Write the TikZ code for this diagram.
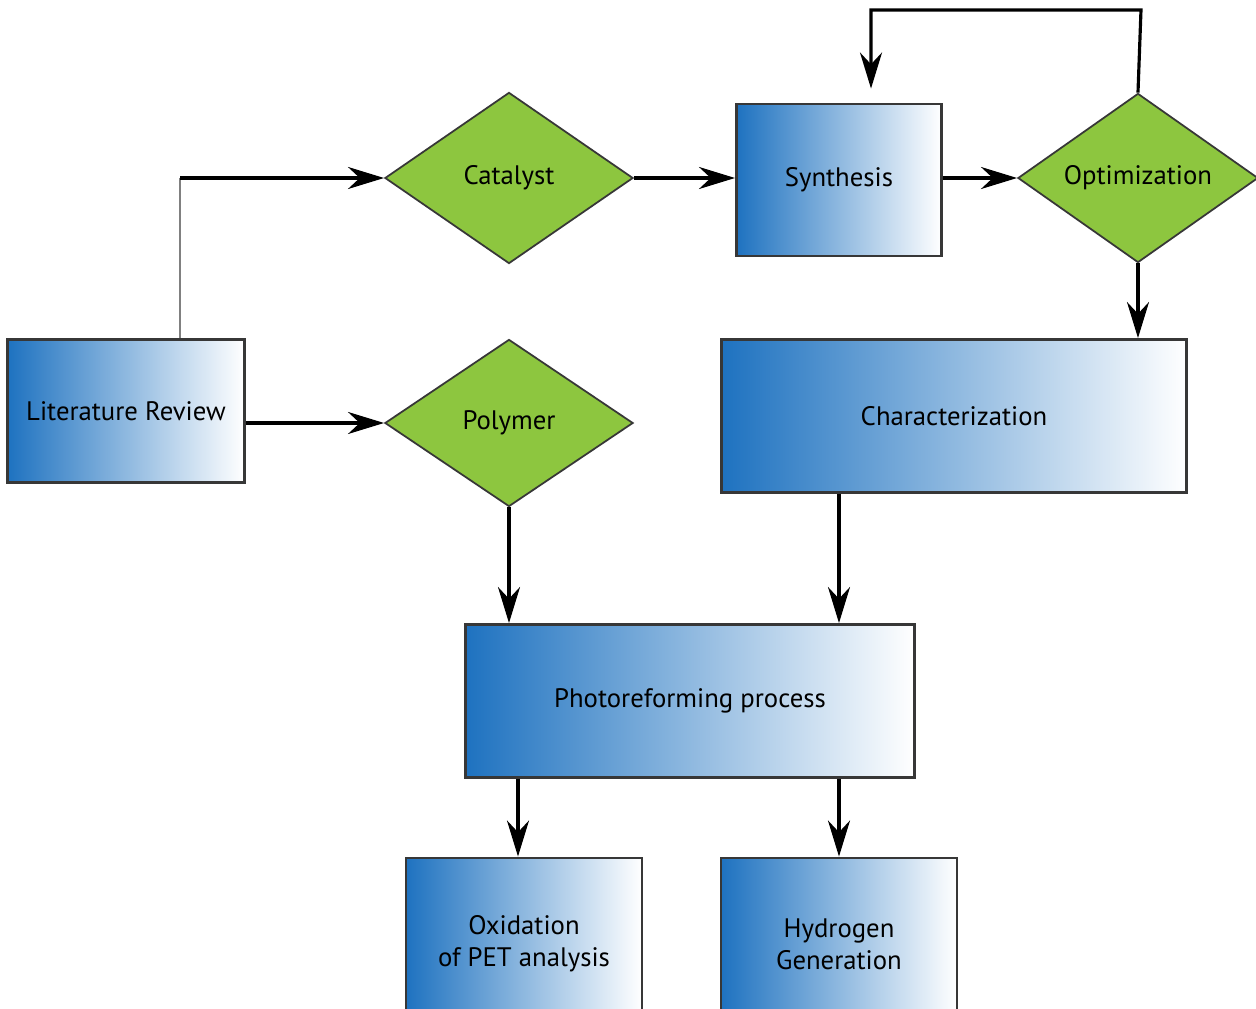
\documentclass[tikz,border=0pt]{standalone}
\usepackage{fontspec}
\setsansfont{PT Sans}
\usetikzlibrary{arrows.meta,shapes.geometric}
\definecolor{boxblue}{RGB}{30,114,192}
\definecolor{leafgreen}{RGB}{141,198,63}
\definecolor{edgegray}{RGB}{55,55,55}
\begin{document}
\begin{tikzpicture}[x=0.01cm,y=-0.01cm,>={Stealth[length=3.6mm,width=2.2mm]},font=\sffamily\fontsize{7.6}{9}\selectfont]
\tikzstyle{blk}=[draw=edgegray,line width=0.8pt,left color=boxblue,right color=white,align=center,inner sep=0pt]
\tikzstyle{dec}=[diamond,draw=edgegray,line width=0.5pt,fill=leafgreen,inner sep=0pt,aspect=1.4]
\tikzstyle{ln}=[->,line width=0.9pt,black]
\useasboundingbox (0,0) rectangle (1256,1009);
\fill[white] (0,0) rectangle (1256,1009);
\clip (0,0) rectangle (1256,1009);
\node[blk,minimum width=2.37cm,minimum height=1.43cm] (lit) at (126,411) {Literature Review};
\node[dec,minimum width=2.48cm,minimum height=1.71cm] (cat) at (509,178) {Catalyst};
\node[dec,minimum width=2.48cm,minimum height=1.67cm] (pol) at (509,423) {Polymer};
\node[blk,minimum width=2.05cm,minimum height=1.52cm] (syn) at (839,180) {Synthesis};
\node[dec,minimum width=2.40cm,minimum height=1.69cm] (opt) at (1138,178) {Optimization};
\node[blk,minimum width=4.65cm,minimum height=1.53cm] (cha) at (954,416) {Characterization};
\node[blk,minimum width=4.48cm,minimum height=1.53cm] (pho) at (690,701) {Photoreforming process};
\node[blk,minimum width=2.36cm,minimum height=1.72cm] (oxi) at (524,944) {Oxidation\\ of PET analysis};
\node[blk,minimum width=2.36cm,minimum height=1.72cm] (hyd) at (839,944) {Hydrogen\\ Generation};
\coordinate (loop) at (1141,10);
\coordinate (bend) at ([xshift=0.54cm]lit.north |- cat.west);
\draw[line width=0.6pt,gray] ([xshift=0.54cm]lit.north) -- (bend);
\draw[ln] (bend) -- (cat.west);
\draw[ln] (lit.east |- pol.west) -- (pol.west);
\draw[ln] (cat.east) -- (syn.west |- cat.east);
\draw[ln] (syn.east |- opt.west) -- (opt.west);
\draw[ln] (opt.north) -- (loop) -| ([xshift=0.32cm,yshift=0.14cm]syn.north);
\draw[ln] (opt.south) -- (cha.north -| opt.south);
\draw[ln] (pol.south) -- (pho.north -| pol.south);
\draw[ln] (cha.south -| hyd.north) -- (pho.north -| hyd.north);
\draw[ln] (pho.south -| oxi.north) ++(-0.06cm,0) -- ([xshift=-0.06cm]oxi.north);
\draw[ln] (pho.south -| hyd.north) -- (hyd.north);
\end{tikzpicture}
\end{document}
